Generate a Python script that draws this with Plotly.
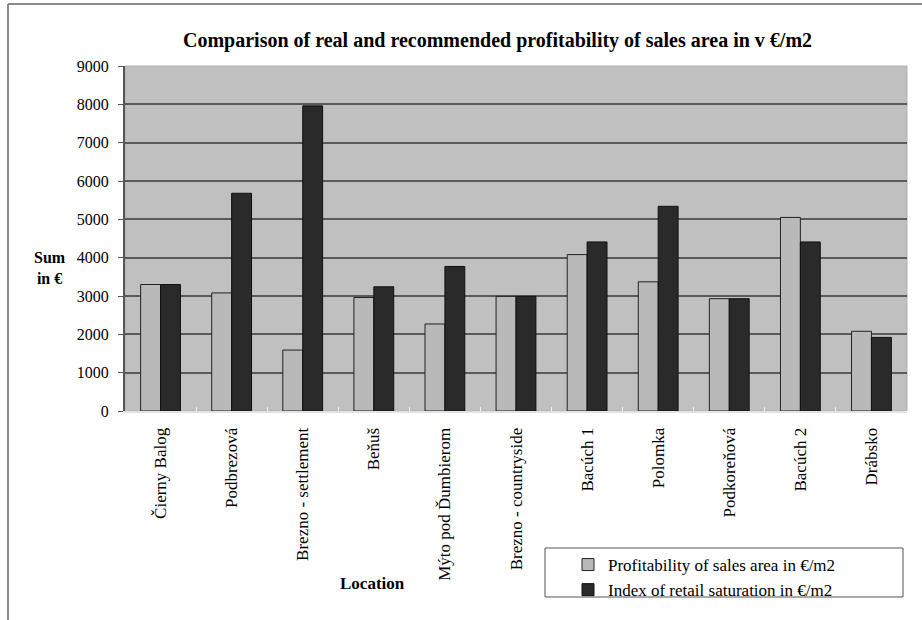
import plotly.graph_objects as go

locations = ["Čierny Balog", "Podbrezová", "Brezno - settlement", "Beňuš",
             "Mýto pod Ďumbierom", "Brezno - countryside", "Bacúch 1", "Polomka",
             "Podkoreňová", "Bacúch 2", "Drábsko"]
profitability = [3300, 3080, 1590, 2960, 2270, 2990, 4080, 3370, 2930, 5050, 2080]
saturation = [3300, 5680, 7960, 3240, 3770, 2990, 4410, 5340, 2930, 4410, 1920]
series_names = ["Profitability of sales area in €/m2", "Index of retail saturation in €/m2"]
title_text = "Comparison of real and recommended profitability of sales area in v €/m2"

W, H = 922, 620
L, R, T, B = 125, 907, 66, 411  # plot area in pixels


def px(x):
    return (x - L) / (R - L)


def py(y):
    return (B - y) / (B - T)


SERIF = "Liberation Serif"

fig = go.Figure()
fig.add_trace(go.Bar(x=locations, y=profitability, name=series_names[0],
                     marker=dict(color="#b9b9b9", line=dict(color="#222222", width=1))))
fig.add_trace(go.Bar(x=locations, y=saturation, name=series_names[1],
                     marker=dict(color="#2a2a2a", line=dict(color="#111111", width=1))))

shapes = [
    # outer chart frame (left and top visible)
    dict(type="line", xref="paper", yref="paper", x0=px(8), x1=px(8), y0=py(4), y1=py(640),
         line=dict(color="#8a8a8a", width=2)),
    dict(type="line", xref="paper", yref="paper", x0=px(8), x1=px(940), y0=py(4), y1=py(4),
         line=dict(color="#8a8a8a", width=2)),
    # plot area light border
    dict(type="rect", xref="paper", yref="paper", x0=0, x1=1, y0=0, y1=1,
         line=dict(color="#b0b0b0", width=1), layer="below"),
    # legend box
    dict(type="rect", xref="paper", yref="paper", x0=px(545), x1=px(903), y0=py(548), y1=py(597),
         line=dict(color="#555555", width=1), fillcolor="white"),
]

annotations = [
    dict(text="<b>" + title_text + "</b>", xref="paper", yref="paper", x=px(497), y=py(40),
         xanchor="center", yanchor="middle", showarrow=False,
         font=dict(family=SERIF, size=20, color="black")),
    dict(text="<b>Sum<br>in €</b>", xref="paper", yref="paper", x=px(50), y=py(268),
         xanchor="center", yanchor="middle", showarrow=False, align="center",
         font=dict(family=SERIF, size=16, color="black")),
    dict(text="<b>Location</b>", xref="paper", yref="paper", x=px(372), y=py(583),
         xanchor="center", yanchor="middle", showarrow=False,
         font=dict(family=SERIF, size=17, color="black")),
]

fig.update_layout(
    width=W, height=H,
    margin=dict(l=L, r=W - R, t=T, b=H - B, pad=0, autoexpand=False),
    paper_bgcolor="white",
    plot_bgcolor="#c0c0c0",
    barmode="group",
    bargap=0.44,
    bargroupgap=0,
    showlegend=True,
    legend=dict(x=px(568), y=py(547), xanchor="left", yanchor="top",
                bgcolor="rgba(0,0,0,0)", borderwidth=0,
                font=dict(family=SERIF, size=17, color="black"),
                tracegroupgap=0, itemwidth=30),
    shapes=shapes,
    annotations=annotations,
    font=dict(family=SERIF, color="black"),
)

fig.update_xaxes(
    type="category", tickangle=-90, tickfont=dict(family=SERIF, size=17, color="black"),
    showline=True, linecolor="#e2e2e2", linewidth=2,
    ticks="inside", tickson="boundaries", ticklen=4, tickcolor="#eeeeee",
    showgrid=False, ticklabelstandoff=8,
)
fig.update_yaxes(
    range=[0, 9000], dtick=1000, tick0=0,
    tickfont=dict(family=SERIF, size=16, color="black"),
    showline=True, linecolor="#555555", linewidth=2,
    ticks="outside", ticklen=5, tickcolor="#555555",
    showgrid=True, gridcolor="#5a5a5a", gridwidth=2, zeroline=False,
    ticklabelstandoff=6,
)

fig.write_html("out.html")
